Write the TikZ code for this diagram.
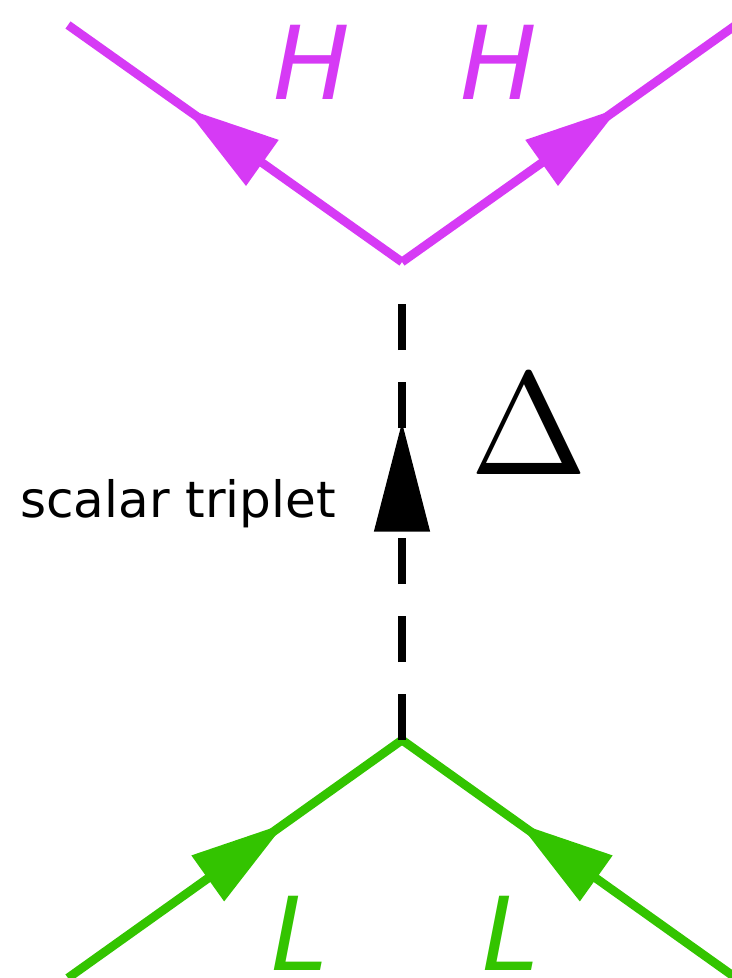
\documentclass[tikz,border=0pt]{standalone}
\usepackage{fontspec}
\newfontfamily\dejavu{DejaVu Sans}
\usetikzlibrary{arrows.meta,decorations.markings}
\definecolor{higgsmag}{RGB}{214,58,245}
\definecolor{leptgreen}{RGB}{51,196,0}
\tikzset{
  midarrow/.style 2 args={postaction={decorate},
    decoration={markings, mark=at position #1 with {\arrow{Triangle[length=#2,width=1.08cm]}}}},
  higgs/.style={color=higgsmag, midarrow={0.65}{1.9cm}},
  lepton/.style={color=leptgreen, midarrow={0.65}{1.9cm}},
  scalar/.style={color=black, line width=4.7pt, dash pattern=on 0.92cm off 0.64cm, midarrow={#1}{2.2cm}},
  flabel/.style={inner sep=0pt, font=\dejavu\itshape\fontsize{58}{58}\selectfont},
}
\begin{document}
\begin{tikzpicture}[x=0.02cm, y=-0.02cm, line width=5pt]
  \useasboundingbox (0,0) rectangle (732,978);
  \clip (0,0) rectangle (732,978);
  % vertices and outer ends
  \coordinate (hv) at (402,262);
  \coordinate (lv) at (402,740);
  \coordinate (dtop) at (402,298);
  \coordinate (h1) at (68,25);
  \coordinate (h2) at (736,25);
  \coordinate (l1) at (68,978);
  \coordinate (l2) at (736,978);
  % lines
  \draw[higgs] (hv) -- (h1);
  \draw[higgs] (hv) -- (h2);
  \draw[lepton] (l1) -- (lv);
  \draw[lepton] (l2) -- (lv);
  \draw[scalar=0.72] (lv) -- (dtop);
  % labels
  \node[flabel, text=higgsmag] (hl) at (312,62) {H};
  \node[flabel, text=higgsmag] (hr) at (499,62) {H};
  \node[flabel, text=leptgreen] (ll) at (300,933) {L};
  \node[flabel, text=leptgreen] (lr) at (511,933) {L};
  \node[xscale=8, yscale=8.3] (delta) at (529,425) {$\Delta$};
  \node[anchor=base east, font=\dejavu\fontsize{28.5}{28.5}\selectfont] (trip) at (346,517) {scalar triplet};
\end{tikzpicture}
\end{document}
